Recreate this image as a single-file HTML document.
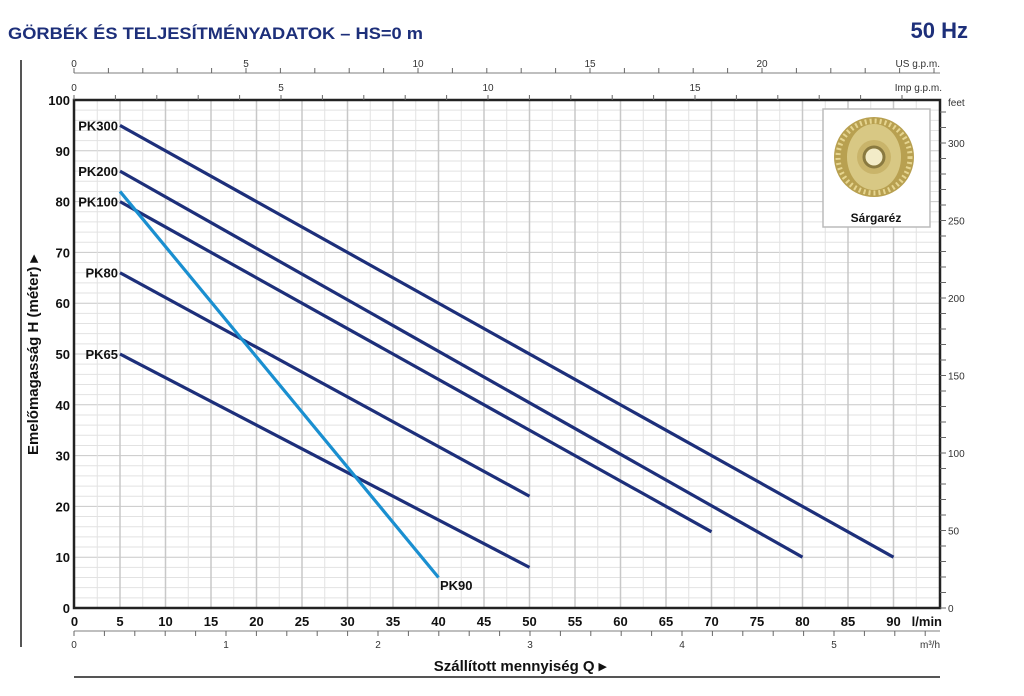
<!DOCTYPE html>
<html><head><meta charset="utf-8">
<style>
html,body{margin:0;padding:0;background:#fff;}
svg{display:block;font-family:"Liberation Sans",sans-serif;}
</style></head>
<body>
<svg id="s" width="1024" height="696" viewBox="0 0 1024 696" xmlns="http://www.w3.org/2000/svg">
<text x="8" y="39" font-size="17" font-weight="bold" fill="#1d2f7a" textLength="415" lengthAdjust="spacingAndGlyphs">GÖRBÉK ÉS TELJESÍTMÉNYADATOK  –  HS=0 m</text>
<text x="968" y="38" font-size="22" font-weight="bold" fill="#1d2f7a" text-anchor="end">50 Hz</text>
<line x1="21" y1="60" x2="21" y2="647" stroke="#555" stroke-width="2"/>
<line x1="74" y1="677" x2="940" y2="677" stroke="#555" stroke-width="2"/>
<g id="grid"></g>
<g id="axes"></g>
<g id="curves"></g>
<rect x="823" y="109" width="107" height="118" fill="#fff" stroke="#bbb" stroke-width="1.5"/>
<g transform="translate(874,157)">
<circle r="40" fill="#b8a050"/>
<circle r="36" fill="none" stroke="#e6d590" stroke-width="5" stroke-dasharray="2 3"/>
<ellipse rx="27" ry="33" fill="#d8c884"/>
<circle r="17" fill="#c9b46a"/>
<circle r="10" fill="#f3ecc8" stroke="#8a7a40" stroke-width="3"/>
</g>
<text x="876" y="222" font-size="12" font-weight="bold" text-anchor="middle" fill="#111">Sárgaréz</text>
<text transform="translate(38,355) rotate(-90)" font-size="15" font-weight="bold" text-anchor="middle" fill="#111">Emelőmagasság  H  (méter)  ▸</text>
<text x="520" y="671" font-size="15" font-weight="bold" text-anchor="middle" fill="#111">Szállított mennyiség  Q  ▸</text>
</svg>
<script>
const NS="http://www.w3.org/2000/svg";
function el(p,t,a,txt){const e=document.createElementNS(NS,t);for(const k in a)e.setAttribute(k,a[k]);if(txt!==undefined)e.textContent=txt;document.getElementById(p).appendChild(e);return e;}
const X=q=>74.5+9.1*q, Y=h=>608-5.08*h;
// grid
for(let h=2;h<100;h+=2){el('grid','line',{x1:74,x2:940,y1:Y(h),y2:Y(h),stroke:h%10?'#e2e2e2':'#c8c8c8','stroke-width':1});}
for(let q=2.5;q<95;q+=2.5){el('grid','line',{x1:X(q),x2:X(q),y1:100,y2:608,stroke:(q%5)?'#e2e2e2':'#c8c8c8','stroke-width':q%5?1:1.5});}
el('axes','rect',{x:74,y:100,width:866,height:508,fill:'none',stroke:'#222','stroke-width':2.5});
// left labels
for(let h=0;h<=100;h+=10){el('axes','text',{x:70,y:Y(h)+5,'font-size':13,'font-weight':'bold','text-anchor':'end',fill:'#111'},h);}
for(let q=0;q<=90;q+=5){el('axes','text',{x:X(q),y:626,'font-size':13,'font-weight':'bold','text-anchor':'middle',fill:'#111'},q);}
el('axes','text',{x:942,y:626,'font-size':13,'font-weight':'bold','text-anchor':'end',fill:'#111'},'l/min');
// m3/h
el('axes','line',{x1:74,x2:940,y1:631,y2:631,stroke:'#999','stroke-width':1.2});
for(let i=0;i<=28;i++){const x=74+30.4*i;if(x>940)break;el('axes','line',{x1:x,x2:x,y1:631,y2:636,stroke:'#666'});}
for(let i=0;i<=5;i++)el('axes','text',{x:74+152*i,y:648,'font-size':10,'text-anchor':'middle',fill:'#333'},i);
el('axes','text',{x:940,y:648,'font-size':10,'text-anchor':'end',fill:'#333'},'m³/h');
// US gpm
el('axes','line',{x1:74,x2:940,y1:73,y2:73,stroke:'#999','stroke-width':1.2});
for(let i=0;i<=25;i++){const x=74+34.4*i;if(x>940)break;el('axes','line',{x1:x,x2:x,y1:68,y2:73,stroke:'#666'});}
for(let i=0;i<=20;i+=5)el('axes','text',{x:74+34.4*i,y:67,'font-size':10,'text-anchor':'middle',fill:'#333'},i);
el('axes','text',{x:940,y:67,'font-size':10,'text-anchor':'end',fill:'#333'},'US g.p.m.');
// Imp gpm
for(let i=0;i<=20;i++){const x=74+41.4*i;if(x>940)break;el('axes','line',{x1:x,x2:x,y1:95,y2:100,stroke:'#666'});}
for(let i=0;i<=15;i+=5)el('axes','text',{x:74+41.4*i,y:91,'font-size':10,'text-anchor':'middle',fill:'#333'},i);
el('axes','text',{x:942,y:91,'font-size':10,'text-anchor':'end',fill:'#333'},'Imp g.p.m.');
// feet
for(let f=0;f<=320;f+=10){const y=608-1.55*f;if(y<100)break;el('axes','line',{x1:940,x2:946,y1:y,y2:y,stroke:'#666'});if(f%50==0)el('axes','text',{x:948,y:y+4,'font-size':10,fill:'#333'},f);}
el('axes','text',{x:948,y:106,'font-size':10,fill:'#333'},'feet');
// curves
const C=[['PK300',5,95,90,10],['PK200',5,86,80,10],['PK100',5,80,70,15],['PK80',5,66,50,22],['PK65',5,50,50,8]];
for(const c of C){el('curves','line',{x1:X(c[1]),y1:Y(c[2]),x2:X(c[3]),y2:Y(c[4]),stroke:'#1d2f7a','stroke-width':3.2});
el('curves','text',{x:118,y:Y(c[2])+5,'font-size':13,'font-weight':'bold','text-anchor':'end',fill:'#111'},c[0]);}
el('curves','line',{x1:X(5),y1:Y(82),x2:X(40),y2:Y(6),stroke:'#1a8fd0','stroke-width':3.2});
el('curves','text',{x:440,y:590,'font-size':13,'font-weight':'bold',fill:'#111'},'PK90');
</script>
</body></html>
